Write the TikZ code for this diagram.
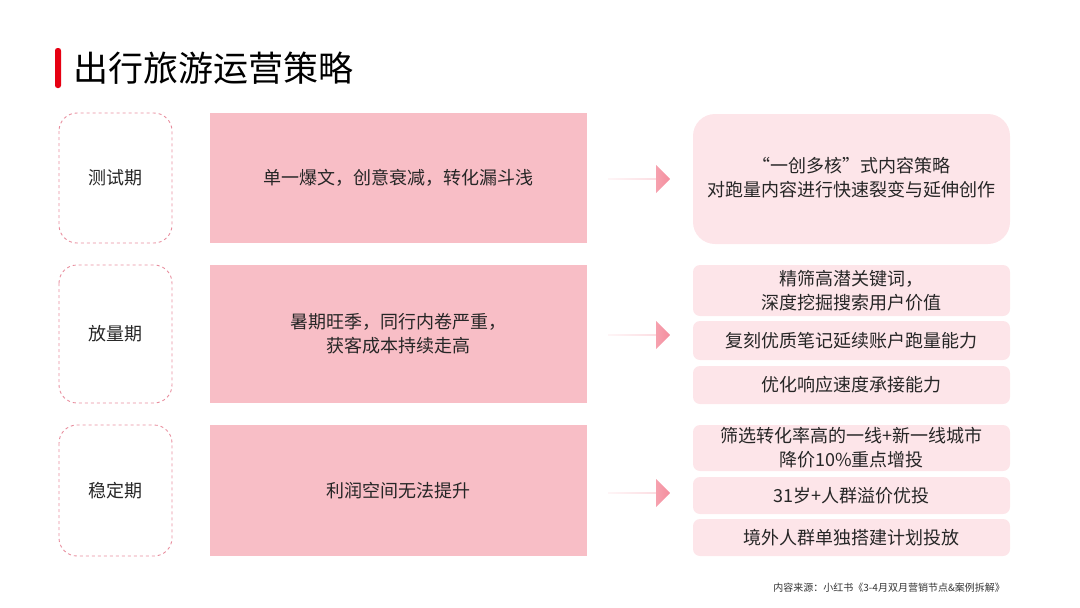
\documentclass[tikz,border=0pt]{standalone}
\usepackage{fontspec}
\setmainfont{Noto Sans CJK SC}
\usetikzlibrary{shapes.arrows}
\definecolor{tred}{HTML}{E60012}
\definecolor{midpink}{HTML}{F8BEC6}
\definecolor{lightpink}{HTML}{FDE5E9}
\definecolor{dashpink}{HTML}{E88E9E}
\definecolor{arrowL}{HTML}{FDE3E7}
\definecolor{arrowR}{HTML}{F48E9E}
\tikzset{
  phase/.style={draw=dashpink, dashed, line width=0.9pt, rounded corners=18pt},
  midbox/.style={fill=midpink, draw=none},
  rbox/.style={fill=lightpink, draw=none, rounded corners=7pt},
  rbig/.style={fill=lightpink, draw=none, rounded corners=22pt},
  lbl/.style={font=\fontsize{18}{24}\selectfont, align=center, text=black!85},
  bigarrow/.style={single arrow, single arrow head extend=10pt, minimum height=62pt, minimum width=28pt, inner sep=0pt, left color=arrowL, right color=arrowR, draw=none, shape border rotate=0}
}
\begin{document}
\begin{tikzpicture}[x=1pt,y=-1pt]
\useasboundingbox (0,0) rectangle (1080,608);
\fill[tred, rounded corners=2.5pt] (55,48) rectangle (61,88);
\node[anchor=west, font=\fontsize{35}{40}\selectfont, inner sep=0] (title) at (73,68) {出行旅游运营策略};
% rows
\foreach \n/\ya/\yb/\t in {a/113/243/测试期, b/265/403/放量期, c/425/556/稳定期}{
  \draw[phase] (59,\ya) rectangle (172,\yb);
  \node[lbl] (p\n) at (115.5,{(\ya+\yb)/2}) {\t};
  \fill[midbox] (210,\ya) rectangle (587,\yb);
}
\node[lbl] (ma) at (398.5,178) {单一爆文，创意衰减，转化漏斗浅};
\node[lbl] (mb) at (398.5,334) {暑期旺季，同行内卷严重，\\获客成本持续走高};
\node[lbl] (mc) at (398.5,490.5) {利润空间无法提升};
\node[bigarrow] (aa) at (639,179) {};
\node[bigarrow] (ab) at (639,335) {};
\node[bigarrow] (ac) at (639,493) {};
% right boxes
\fill[rbig] (693,114) rectangle (1010,244);
\node[lbl] (ra) at (851.5,178) {“一创多核”式内容策略\\对跑量内容进行快速裂变与延伸创作};
\fill[rbox] (693,265) rectangle (1010,316);
\node[lbl] (rb1) at (851.5,290.5) {精筛高潜关键词，\\深度挖掘搜索用户价值};
\fill[rbox] (693,321) rectangle (1010,360);
\node[lbl] (rb2) at (851.5,340.5) {复刻优质笔记延续账户跑量能力};
\fill[rbox] (693,366) rectangle (1010,404);
\node[lbl] (rb3) at (851.5,385) {优化响应速度承接能力};
\fill[rbox] (693,425) rectangle (1010,471);
\node[lbl] (rc1) at (851.5,448) {筛选转化率高的一线+新一线城市\\降价10\%重点增投};
\fill[rbox] (693,477) rectangle (1010,514);
\node[lbl] (rc2) at (851.5,495.5) {31岁+人群溢价优投};
\fill[rbox] (693,519) rectangle (1010,556);
\node[lbl] (rc3) at (851.5,537.5) {境外人群单独搭建计划投放};
\node[anchor=east, font=\fontsize{10}{12}\selectfont, text=black!80, inner sep=0] (src) at (1005,588) {内容来源：小红书《3-4月双月营销节点\&案例拆解》};
\end{tikzpicture}
\end{document}
